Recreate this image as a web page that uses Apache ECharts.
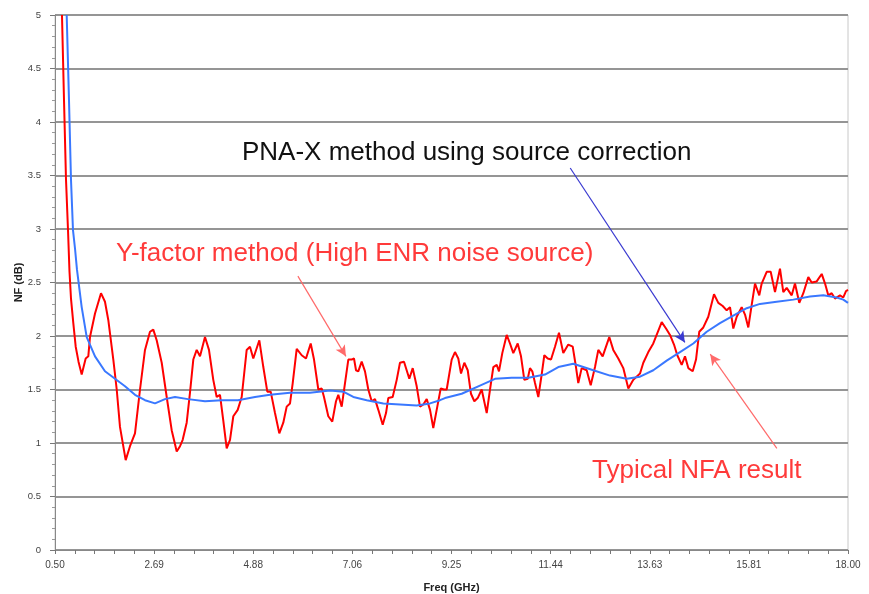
<!DOCTYPE html>
<html>
<head>
<meta charset="utf-8">
<script src="https://cdn.jsdelivr.net/npm/echarts@6/dist/echarts.min.js"></script>
<style>
  html, body { margin: 0; padding: 0; background: #fff; }
  #chart { width: 869px; height: 594px; }
</style>
</head>
<body>
<div id="chart"></div>
<script>
// x axis runs from 0.50 to 18.00 GHz, labels every 2.1875 GHz
var X_START = 0.5;
var X_STEP = 2.1875;
var xTickLabels = ['0.50', '2.69', '4.88', '7.06', '9.25', '11.44', '13.63', '15.81', '18.00'];

// Y-factor method (red), freq GHz / NF dB
var redFreq = [0.654, 0.699, 0.743, 0.787, 0.820, 0.853, 0.904, 0.957, 1.019, 1.089, 1.177, 1.235, 1.272, 1.383, 1.515, 1.603, 1.676, 1.787, 1.862, 1.934,
  2.060, 2.155, 2.265, 2.376, 2.486, 2.596, 2.669, 2.744, 2.855, 2.965, 3.075, 3.186, 3.259, 3.318, 3.406, 3.479, 3.552, 3.627, 3.700, 3.810,
  3.898, 3.993, 4.068, 4.141, 4.214, 4.289, 4.362, 4.435, 4.532, 4.620, 4.730, 4.803, 4.876, 5.009, 5.097, 5.185, 5.260, 5.355, 5.450, 5.538,
  5.613, 5.686, 5.746, 5.834, 5.944, 6.039, 6.143, 6.216, 6.311, 6.386, 6.436, 6.531, 6.619, 6.701, 6.752, 6.827, 6.900, 6.973, 7.048, 7.098,
  7.143, 7.193, 7.268, 7.341, 7.414, 7.489, 7.562, 7.635, 7.732, 7.805, 7.855, 7.952, 8.041, 8.113, 8.202, 8.319, 8.394, 8.482, 8.555, 8.628,
  8.703, 8.776, 8.848, 8.923, 9.012, 9.084, 9.144, 9.254, 9.327, 9.400, 9.460, 9.533, 9.608, 9.680, 9.754, 9.828, 9.916, 10.027, 10.100, 10.173,
  10.248, 10.298, 10.371, 10.468, 10.541, 10.614, 10.711, 10.784, 10.857, 10.932, 10.982, 11.033, 11.093, 11.166, 11.240, 11.298, 11.373, 11.446, 11.534, 11.622,
  11.717, 11.827, 11.925, 11.997, 12.048, 12.123, 12.233, 12.322, 12.417, 12.490, 12.586, 12.732, 12.820, 12.931, 13.041, 13.152, 13.262, 13.410, 13.483, 13.593,
  13.703, 13.889, 13.984, 14.072, 14.160, 14.233, 14.330, 14.403, 14.476, 14.573, 14.646, 14.718, 14.807, 14.917, 15.043, 15.138, 15.235, 15.323, 15.396, 15.469,
  15.544, 15.654, 15.727, 15.800, 15.875, 15.948, 16.042, 16.095, 16.206, 16.294, 16.389, 16.499, 16.572, 16.647, 16.758, 16.830, 16.925, 17.014, 17.124, 17.199,
  17.309, 17.420, 17.493, 17.565, 17.640, 17.713, 17.823, 17.896, 17.956, 18.000];
var redNF = [5.00, 4.20, 3.46, 2.99, 2.60, 2.35, 2.12, 1.90, 1.76, 1.64, 1.79, 1.81, 1.99, 2.21, 2.40, 2.32, 2.15, 1.78, 1.50, 1.15,
  0.84, 0.97, 1.09, 1.50, 1.87, 2.04, 2.06, 1.96, 1.75, 1.43, 1.12, 0.92, 0.97, 1.03, 1.19, 1.47, 1.78, 1.87, 1.81, 1.99,
  1.87, 1.59, 1.43, 1.45, 1.21, 0.95, 1.03, 1.25, 1.31, 1.43, 1.87, 1.90, 1.79, 1.96, 1.71, 1.48, 1.48, 1.28, 1.09, 1.19,
  1.34, 1.37, 1.56, 1.88, 1.82, 1.79, 1.93, 1.78, 1.50, 1.51, 1.43, 1.25, 1.20, 1.39, 1.45, 1.34, 1.56, 1.78, 1.78, 1.79,
  1.68, 1.67, 1.76, 1.67, 1.50, 1.39, 1.41, 1.31, 1.17, 1.28, 1.42, 1.43, 1.59, 1.75, 1.76, 1.60, 1.70, 1.53, 1.34, 1.36,
  1.41, 1.31, 1.14, 1.31, 1.51, 1.50, 1.50, 1.78, 1.85, 1.79, 1.65, 1.75, 1.68, 1.46, 1.39, 1.42, 1.50, 1.28, 1.50, 1.71,
  1.73, 1.67, 1.84, 2.01, 1.93, 1.84, 1.93, 1.81, 1.59, 1.60, 1.70, 1.67, 1.56, 1.43, 1.64, 1.82, 1.79, 1.78, 1.90, 2.03,
  1.84, 1.92, 1.90, 1.71, 1.56, 1.70, 1.68, 1.54, 1.71, 1.87, 1.81, 1.99, 1.87, 1.79, 1.70, 1.51, 1.59, 1.65, 1.75, 1.85,
  1.93, 2.13, 2.07, 2.01, 1.92, 1.82, 1.73, 1.81, 1.70, 1.67, 1.78, 2.04, 2.08, 2.18, 2.39, 2.31, 2.28, 2.24, 2.27, 2.07,
  2.18, 2.27, 2.20, 2.08, 2.29, 2.49, 2.38, 2.49, 2.60, 2.60, 2.41, 2.63, 2.41, 2.45, 2.38, 2.49, 2.31, 2.40, 2.55, 2.50,
  2.51, 2.58, 2.49, 2.38, 2.40, 2.35, 2.38, 2.36, 2.42, 2.43];

// PNA-X with source correction (blue)
var blueFreq = [0.758, 0.809, 0.853, 0.897, 0.941, 0.985, 1.089, 1.200, 1.383, 1.603, 1.824, 2.045, 2.265, 2.486, 2.707, 2.927, 3.148, 3.435, 3.810, 4.179,
  4.538, 4.914, 5.245, 5.686, 6.127, 6.569, 6.862, 7.083, 7.379, 7.745, 8.113, 8.482, 8.776, 8.996, 9.106, 9.475, 9.841, 10.210, 10.578, 10.945,
  11.313, 11.607, 11.938, 12.379, 12.748, 13.116, 13.410, 13.703, 13.999, 14.293, 14.586, 14.882, 15.175, 15.469, 15.764, 16.058, 16.426, 16.793, 17.161, 17.455,
  17.750, 17.896, 18.000];
var blueNF = [5.00, 4.20, 3.46, 2.99, 2.82, 2.62, 2.27, 1.99, 1.81, 1.67, 1.60, 1.53, 1.45, 1.40, 1.37, 1.41, 1.43, 1.41, 1.39, 1.40,
  1.40, 1.43, 1.45, 1.47, 1.47, 1.49, 1.48, 1.43, 1.40, 1.37, 1.36, 1.35, 1.37, 1.40, 1.42, 1.46, 1.53, 1.60, 1.61, 1.61,
  1.64, 1.71, 1.74, 1.68, 1.63, 1.60, 1.62, 1.68, 1.77, 1.85, 1.93, 2.04, 2.12, 2.19, 2.26, 2.30, 2.32, 2.34, 2.37, 2.38,
  2.36, 2.34, 2.31];

// annotation arrows: [fromFreq, fromNF, toFreq, toNF]
var blueArrow = [11.87, 3.57, 14.40, 1.94];
var redArrows = [[5.86, 2.56, 6.92, 1.81], [16.43, 0.95, 14.96, 1.83]];

function pairs(fx, fy) {
  return fx.map(function (f, i) { return [f - X_START, fy[i]]; });
}
function arrowLine(a) {
  return [{ coord: [a[0] - X_START, a[1]] }, { coord: [a[2] - X_START, a[3]] }];
}

var chart = echarts.init(document.getElementById('chart'));
var fontFam = '"Liberation Sans", Arial, sans-serif';
var labelFont = { fontFamily: 'Liberation Sans, Arial, sans-serif', fontSize: 10, color: '#444' };
var nameFont = { fontFamily: 'Liberation Sans, Arial, sans-serif', fontSize: 11, fontWeight: 'bold', color: '#222' };

chart.setOption({
  animation: false,
  grid: {
    left: 55, right: 21, top: 15, bottom: 44,
    outerBoundsMode: 'none', containLabel: false,
    show: true, borderColor: '#c8c8c8', borderWidth: 1
  },
  xAxis: {
    type: 'value',
    min: 0,
    max: 17.5,
    interval: X_STEP,
    name: 'Freq (GHz)',
    nameLocation: 'middle',
    nameGap: 32,
    nameMoveOverlap: false,
    nameTextStyle: nameFont,
    axisLine: { lineStyle: { color: '#888', width: 1 } },
    axisTick: { length: 4, lineStyle: { color: '#777' } },
    minorTick: { show: true, splitNumber: 5, length: 4, lineStyle: { color: '#777' } },
    splitLine: { show: false },
    axisLabel: Object.assign({
      margin: 10,
      formatter: function (v) { return xTickLabels[Math.round(v / X_STEP)]; }
    }, labelFont)
  },
  yAxis: {
    type: 'value',
    min: 0,
    max: 5,
    interval: 0.5,
    name: 'NF (dB)',
    nameLocation: 'middle',
    nameGap: 31,
    nameMoveOverlap: false,
    nameTextStyle: nameFont,
    axisLine: { show: true, lineStyle: { color: '#888', width: 1 } },
    axisTick: { show: true, length: 5, lineStyle: { color: '#777' } },
    minorTick: { show: true, splitNumber: 5, length: 3, lineStyle: { color: '#999' } },
    splitLine: { lineStyle: { color: '#959595', width: 1.8 } },
    axisLabel: Object.assign({ margin: 14 }, labelFont, { fontSize: 9.5 })
  },
  series: [
    {
      name: 'Y-factor',
      type: 'line',
      data: pairs(redFreq, redNF),
      showSymbol: false,
      lineStyle: { color: '#ff0000', width: 2 },
      z: 3,
      markLine: {
        silent: true,
        symbol: ['none', 'arrow'],
        symbolSize: [8, 11],
        label: { show: false },
        lineStyle: { color: '#ff6a6a', width: 1.2, type: 'solid' },
        data: redArrows.map(arrowLine)
      }
    },
    {
      name: 'PNA-X',
      type: 'line',
      data: pairs(blueFreq, blueNF),
      showSymbol: false,
      lineStyle: { color: '#3a78ff', width: 2 },
      z: 4,
      markLine: {
        silent: true,
        symbol: ['none', 'arrow'],
        symbolSize: [8, 11],
        label: { show: false },
        lineStyle: { color: '#3a3ad0', width: 1.2, type: 'solid' },
        data: [arrowLine(blueArrow)]
      }
    }
  ],
  graphic: [
    { type: 'text', x: 242, y: 153, style: { text: 'PNA-X method using source correction', font: '26px ' + fontFam, fill: '#111', verticalAlign: 'middle' } },
    { type: 'text', x: 116, y: 254, style: { text: 'Y-factor method (High ENR noise source)', font: '26px ' + fontFam, fill: '#ff3a3a', verticalAlign: 'middle' } },
    { type: 'text', x: 592, y: 471, style: { text: 'Typical NFA result', font: '26px ' + fontFam, fill: '#ff3a3a', verticalAlign: 'middle' } }
  ]
});
</script>
</body>
</html>
